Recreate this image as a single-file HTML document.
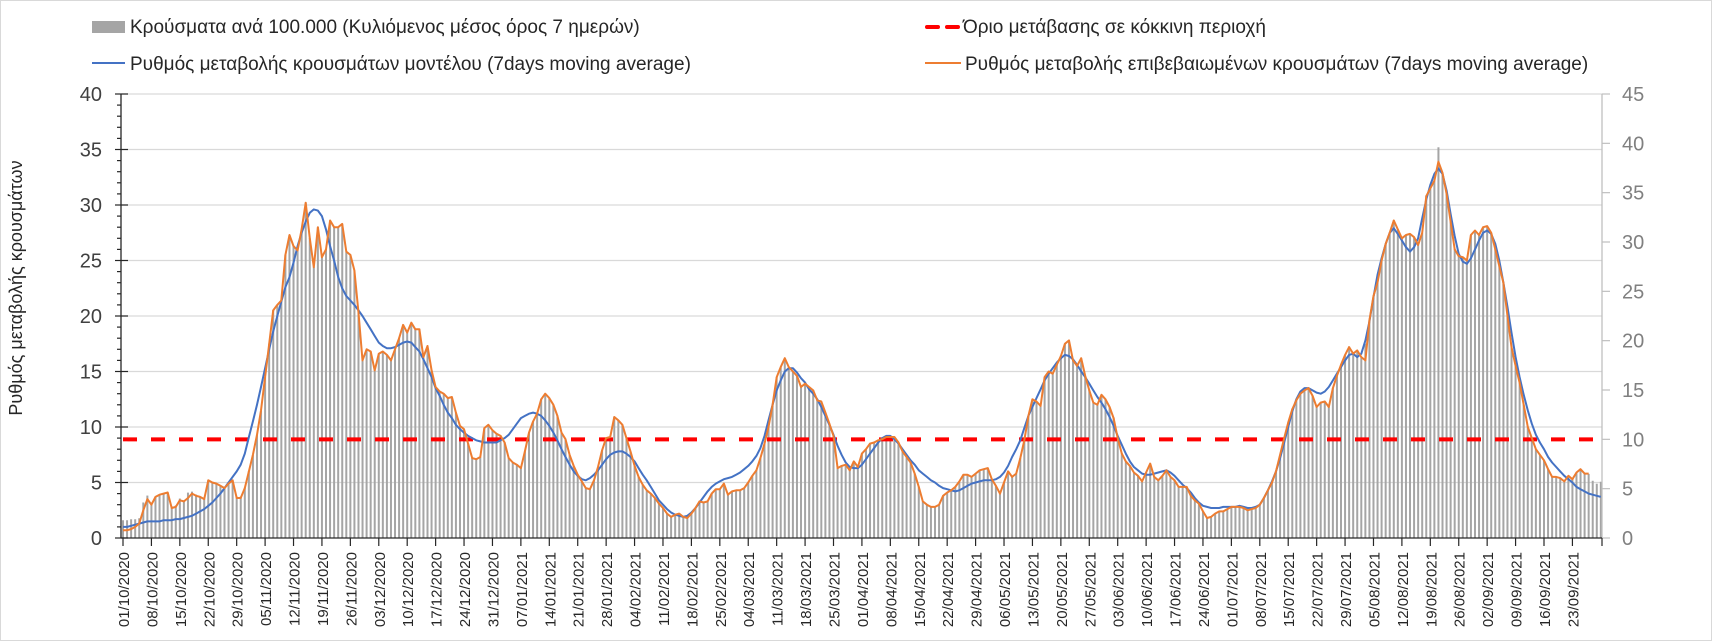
<!DOCTYPE html>
<html><head><meta charset="utf-8"><style>
html,body{margin:0;padding:0;background:#fff;}
svg{display:block;font-family:"Liberation Sans",sans-serif;}
</style></head><body>
<svg id="chart" width="1712" height="641" viewBox="0 0 1712 641" xmlns="http://www.w3.org/2000/svg">
<rect x="0.5" y="0.5" width="1711" height="640" fill="#fff" stroke="#d9d9d9"/>
<g id="grid"></g>
<g id="bars"></g>
<g id="lines"></g>
<g id="axes"></g>
<g font-size="19" fill="#262626">
  <rect x="92" y="21" width="33" height="12" fill="#a5a5a5"/>
  <text x="130" y="33">Κρούσματα ανά 100.000 (Κυλιόμενος μέσος όρος 7 ημερών)</text>
  <line x1="92" y1="63" x2="125" y2="63" stroke="#4472c4" stroke-width="2"/>
  <text x="130" y="70">Ρυθμός μεταβολής κρουσμάτων μοντέλου (7days moving average)</text>
  <line x1="927" y1="27" x2="961" y2="27" stroke="#ff0000" stroke-width="4" stroke-dasharray="11 9" stroke-linecap="round"/>
  <text x="963" y="33">Όριο μετάβασης σε κόκκινη περιοχή</text>
  <line x1="925" y1="63" x2="961" y2="63" stroke="#ed7d31" stroke-width="2"/>
  <text x="965" y="70">Ρυθμός μεταβολής επιβεβαιωμένων κρουσμάτων (7days moving average)</text>
</g>
<text transform="translate(22,288) rotate(-90)" text-anchor="middle" font-size="18" fill="#262626">Ρυθμός μεταβολής κρουσμάτων</text>
</svg>
<script>
const leftTicks = [0,5,10,15,20,25,30,35,40];
const rightTicks = [0,5,10,15,20,25,30,35,40,45];
const threshold = 10;
const startDate = [2020,10,1];
const confirmedRate = [0.7,0.7,0.8,1.0,1.3,2.5,3.5,3.0,3.7,3.9,4.0,4.1,2.7,2.8,3.4,3.3,3.6,4.0,3.8,3.7,3.5,5.2,5.0,4.9,4.7,4.5,4.9,5.2,3.6,3.6,4.5,6.0,7.5,9.3,11.5,14.5,17.5,20.5,21.0,21.4,25.5,27.3,26.3,25.9,27.8,30.2,27.0,24.4,28.0,25.3,26.0,28.6,28.0,28.0,28.3,25.8,25.5,24.1,20.3,16.0,17.0,16.8,15.1,16.6,16.8,16.5,16.0,17.0,18.0,19.2,18.5,19.4,18.8,18.8,16.3,17.3,15.1,13.6,13.2,13.0,12.6,12.7,11.3,10.1,9.8,8.5,7.2,7.1,7.3,9.9,10.2,9.7,9.4,9.2,8.6,7.2,6.8,6.6,6.3,7.8,9.5,10.5,11.2,12.5,13.0,12.6,12.0,11.0,9.5,8.9,7.5,6.5,5.7,5.1,4.5,4.4,5.2,6.4,7.9,9.0,9.1,10.9,10.6,10.2,9.0,7.8,6.5,5.5,4.8,4.3,4.0,3.6,3.1,2.7,2.2,1.9,2.1,2.2,1.9,1.8,2.2,2.7,3.3,3.2,3.3,4.0,4.4,4.4,4.9,3.9,4.2,4.3,4.3,4.5,5.0,5.6,6.1,7.2,8.5,10.0,12.0,14.5,15.4,16.2,15.4,15.0,14.6,13.6,13.9,13.6,13.3,12.4,12.3,11.3,10.3,9.2,6.3,6.5,6.6,6.1,6.9,6.4,7.6,8.0,8.5,8.6,8.8,8.9,9.1,9.1,9.1,8.6,7.8,7.3,6.8,5.8,4.6,3.3,3.0,2.8,2.8,3.0,3.8,4.1,4.3,4.6,5.1,5.7,5.7,5.5,5.8,6.1,6.2,6.3,5.3,4.7,4.0,5.0,6.0,5.5,5.8,7.2,8.8,11.0,12.5,12.3,11.9,14.5,15.0,14.8,15.6,16.4,17.5,17.8,16.0,15.5,16.2,14.6,13.3,12.2,12.0,12.9,12.5,11.8,10.8,9.0,7.6,6.9,6.5,5.9,5.6,5.1,5.9,6.7,5.5,5.2,5.6,6.1,5.5,5.2,4.6,4.6,4.6,3.8,3.4,3.1,2.4,1.8,1.9,2.2,2.4,2.4,2.6,2.8,2.8,2.8,2.7,2.5,2.6,2.7,3.0,3.6,4.3,5.0,6.0,7.5,9.0,10.4,11.6,12.4,13.0,13.3,13.5,12.8,11.8,12.2,12.3,11.8,13.5,14.6,15.6,16.5,17.2,16.6,16.9,16.3,16.0,19.6,21.8,23.0,25.0,26.5,27.5,28.6,27.8,27.0,27.3,27.4,27.1,26.4,27.5,30.8,31.5,32.2,33.9,32.9,31.0,28.5,26.0,25.4,25.3,25.0,27.3,27.7,27.3,28.0,28.1,27.5,26.0,24.5,23.0,20.0,17.2,15.5,14.0,12.0,10.0,9.0,8.0,7.5,7.0,6.2,5.5,5.5,5.4,5.1,5.6,5.3,5.9,6.2,5.8,5.8];
const modelRate = [1.0,1.0,1.1,1.2,1.3,1.4,1.5,1.5,1.5,1.5,1.6,1.6,1.6,1.7,1.7,1.8,1.9,2.0,2.2,2.4,2.6,2.9,3.2,3.6,4.0,4.5,5.0,5.5,6.0,6.6,7.6,9.1,10.5,12.0,13.6,15.3,17.0,18.6,20.0,21.3,22.6,23.5,24.8,26.3,27.5,28.5,29.3,29.6,29.5,29.0,27.8,26.3,25.0,23.5,22.5,21.8,21.4,21.0,20.5,20.0,19.4,18.8,18.2,17.6,17.3,17.1,17.1,17.2,17.4,17.6,17.7,17.6,17.2,16.8,16.1,15.3,14.5,13.5,12.8,12.0,11.3,10.8,10.2,9.8,9.5,9.2,9.0,8.8,8.7,8.6,8.6,8.6,8.6,8.8,9.0,9.3,9.8,10.3,10.8,11.0,11.2,11.3,11.2,11.0,10.6,10.1,9.5,8.8,8.0,7.3,6.6,6.0,5.6,5.3,5.2,5.4,5.7,6.1,6.6,7.1,7.5,7.7,7.8,7.8,7.6,7.3,6.9,6.3,5.7,5.2,4.6,4.0,3.4,3.0,2.6,2.3,2.1,2.0,1.9,2.0,2.3,2.7,3.2,3.7,4.2,4.6,4.9,5.1,5.3,5.4,5.5,5.7,5.9,6.2,6.5,6.9,7.4,8.1,9.2,10.6,12.0,13.3,14.2,15.0,15.3,15.3,14.9,14.4,14.0,13.4,13.0,12.5,11.8,11.0,10.2,9.3,8.3,7.5,6.8,6.4,6.3,6.3,6.6,7.1,7.6,8.1,8.6,9.0,9.2,9.2,8.9,8.5,8.0,7.5,7.0,6.6,6.1,5.8,5.5,5.2,5.0,4.7,4.5,4.4,4.3,4.2,4.3,4.5,4.7,4.9,5.0,5.1,5.2,5.2,5.2,5.3,5.5,5.9,6.5,7.3,8.0,8.8,9.9,11.0,11.8,12.6,13.4,14.2,14.8,15.3,15.8,16.2,16.5,16.4,16.1,15.6,15.0,14.5,13.9,13.3,12.7,12.2,11.6,10.9,10.1,9.2,8.4,7.6,6.9,6.4,6.1,5.8,5.7,5.7,5.8,5.9,6.0,6.1,5.9,5.6,5.2,4.8,4.5,4.1,3.6,3.2,2.9,2.8,2.7,2.7,2.7,2.8,2.8,2.8,2.8,2.9,2.8,2.7,2.7,2.8,3.0,3.6,4.3,5.1,6.0,7.2,8.6,10.0,11.4,12.5,13.2,13.5,13.5,13.3,13.1,13.0,13.2,13.6,14.2,14.8,15.4,16.0,16.5,16.6,16.3,16.6,17.8,19.5,21.7,23.7,25.2,26.5,27.5,27.9,27.4,26.8,26.2,25.8,26.2,27.0,28.8,30.5,31.8,32.8,33.3,32.8,31.3,29.2,27.2,25.6,24.9,24.7,25.2,26.0,26.8,27.5,27.7,27.4,26.5,25.0,23.0,20.8,18.5,16.3,14.5,12.9,11.5,10.3,9.3,8.6,8.0,7.3,6.8,6.4,6.0,5.6,5.3,5.0,4.6,4.4,4.2,4.0,3.9,3.8,3.7];
const casesPer100k = [1.8,1.8,1.9,1.9,2.0,3.6,4.3,3.6,4.2,4.4,4.5,4.6,3.2,3.3,4.0,3.8,4.6,4.7,4.4,4.2,4.0,5.9,5.6,5.5,5.3,5.1,5.5,5.9,4.2,4.2,5.1,6.8,8.4,10.5,12.9,16.3,19.7,23.1,23.6,24.1,28.7,30.7,29.6,29.1,31.3,34.0,30.4,27.5,31.5,28.5,29.3,32.2,31.5,31.5,31.8,29.0,28.7,27.1,22.8,18.0,19.1,18.9,17.0,18.7,18.9,18.6,18.0,19.1,20.3,21.6,20.8,21.8,21.2,21.2,18.3,19.5,17.0,15.3,14.9,14.6,14.2,14.3,12.7,11.4,11.0,9.6,8.1,8.0,8.2,11.1,11.5,10.9,10.6,10.4,9.7,8.1,7.7,7.4,7.1,8.8,10.7,11.8,12.6,14.1,14.6,14.2,13.5,12.4,10.7,10.0,8.4,7.3,6.4,5.7,5.1,5.0,5.9,7.2,8.9,10.1,10.2,12.3,11.9,11.5,10.1,8.8,7.3,6.2,5.4,4.8,4.5,4.1,3.5,3.0,2.5,2.1,2.4,2.5,2.1,2.0,2.5,3.0,3.7,3.6,3.7,4.5,5.0,5.0,5.5,4.4,4.7,4.8,4.8,5.1,5.6,6.3,6.9,8.1,9.6,11.3,13.5,16.3,17.3,18.2,17.3,16.9,16.4,15.3,15.6,15.3,15.0,14.0,13.8,12.7,11.6,10.4,7.1,7.3,7.4,6.9,7.8,7.2,8.6,9.0,9.6,9.7,9.9,10.0,10.2,10.2,10.2,9.7,8.8,8.2,7.7,6.5,5.2,3.7,3.4,3.2,3.2,3.4,4.3,4.6,4.8,5.2,5.7,6.4,6.4,6.2,6.5,6.9,7.0,7.1,6.0,5.3,4.5,5.6,6.8,6.2,6.5,8.1,9.9,12.4,14.1,13.8,13.4,16.3,16.9,16.7,17.6,18.5,19.7,20.0,18.0,17.4,18.2,16.4,15.0,13.7,13.5,14.5,14.1,13.3,12.2,10.1,8.6,7.8,7.3,6.6,6.3,5.7,6.6,7.5,6.2,5.9,6.3,6.9,6.2,5.9,5.2,5.2,5.2,4.3,3.8,3.5,2.7,2.0,2.1,2.5,2.7,2.7,2.9,3.2,3.2,3.2,3.0,2.8,2.9,3.0,3.4,4.1,4.8,5.6,6.8,8.4,10.1,11.7,13.1,14.0,14.6,15.0,15.2,14.4,13.3,13.7,13.8,13.3,15.2,16.4,17.6,18.6,19.4,18.7,19.0,18.3,19.7,22.1,24.5,25.9,28.1,29.8,30.9,32.2,31.3,30.4,30.7,30.8,30.5,29.7,30.9,34.7,35.4,36.2,39.6,37.0,34.9,32.1,29.3,28.6,28.5,28.1,30.7,31.2,30.7,31.5,31.6,30.9,29.3,27.6,25.9,22.5,19.4,17.4,15.8,13.5,11.3,10.1,9.0,8.4,7.9,7.0,6.2,6.2,6.1,5.7,6.3,6.0,6.6,7.0,6.5,6.5,5.8,5.5,5.7];

const NS = "http://www.w3.org/2000/svg";
const X0 = 123, DX = 4.06, Y0 = 538, YTOP = 94, AX = 121, AXR = 1602;
const nDays = casesPer100k.length;
function xDay(i){ return X0 + i*DX; }
function yLeft(v){ return Y0 - v*(Y0-YTOP)/40; }
function yRight(v){ return Y0 - v*(Y0-YTOP)/45; }
function mk(tag, attrs, parent){
  const e = document.createElementNS(NS, tag);
  for (const k in attrs) e.setAttribute(k, attrs[k]);
  parent.appendChild(e);
  return e;
}
const grid = document.getElementById('grid');
const bars = document.getElementById('bars');
const lines = document.getElementById('lines');
const axes = document.getElementById('axes');

leftTicks.forEach(t => {
  if (t === 0) return;
  const g = mk('line', {x1: AX, x2: AXR, y1: yLeft(t), y2: yLeft(t), stroke: '#d9d9d9', 'stroke-width': 1.3}, grid);
  
  
});

casesPer100k.forEach((v, i) => {
  const b = mk('rect', {x: xDay(i) - 1, y: yRight(v), width: 2, height: Y0 - yRight(v), fill: '#a5a5a5'}, bars);
  
  
});

const th = mk('line', {x1: xDay(0), x2: xDay(nDays - 1), y1: yRight(threshold), y2: yRight(threshold), stroke: '#ff0000', 'stroke-width': 4, 'stroke-dasharray': '14 14'}, lines);



const bluePts = modelRate.map((v, i) => xDay(i).toFixed(1) + ',' + yLeft(v).toFixed(1)).join(' ');
const blue = mk('polyline', {points: bluePts, fill: 'none', stroke: '#4472c4', 'stroke-width': 2, 'stroke-linejoin': 'round'}, lines);



const orPts = confirmedRate.map((v, i) => xDay(i).toFixed(1) + ',' + yLeft(v).toFixed(1)).join(' ');
const orange = mk('polyline', {points: orPts, fill: 'none', stroke: '#ed7d31', 'stroke-width': 2, 'stroke-linejoin': 'round'}, lines);



const la = mk('line', {x1: AX, x2: AX, y1: YTOP, y2: Y0, stroke: '#262626', 'stroke-width': 1.3}, axes);


for (let v = 0; v <= 40; v++) {
  const major = v % 5 === 0;
  const t = mk('line', {x1: major ? 115 : 117, x2: major ? 128 : AX, y1: yLeft(v), y2: yLeft(v), stroke: '#262626', 'stroke-width': 1.2}, axes);
  
  
}
leftTicks.forEach(t => {
  const l = mk('text', {x: 102, y: yLeft(t) + 7, 'text-anchor': 'end', 'font-size': 20, fill: '#404040'}, axes);
  l.textContent = t;
  
  
});
const ra = mk('line', {x1: AXR, x2: AXR, y1: YTOP, y2: Y0, stroke: '#bfbfbf', 'stroke-width': 1.3}, axes);


rightTicks.forEach(t => {
  const k = mk('line', {x1: AXR, x2: AXR + 8, y1: yRight(t), y2: yRight(t), stroke: '#bfbfbf', 'stroke-width': 1.2}, axes);
  
  
  const l = mk('text', {x: 1622, y: yRight(t) + 7, 'font-size': 20, fill: '#808080'}, axes);
  l.textContent = t;
  
  
});
const xa = mk('line', {x1: AX, x2: AXR, y1: Y0, y2: Y0, stroke: '#262626', 'stroke-width': 1.3}, axes);


function pad(n){ return (n < 10 ? '0' : '') + n; }
for (let i = 0; i + 7 <= nDays; i += 7) {
  const d = new Date(Date.UTC(startDate[0], startDate[1] - 1, startDate[2] + i));
  const label = pad(d.getUTCDate()) + '/' + pad(d.getUTCMonth() + 1) + '/' + d.getUTCFullYear();
  const x = xDay(i);
  const tk = mk('line', {x1: x, x2: x, y1: Y0, y2: Y0 + 8, stroke: '#262626', 'stroke-width': 1.2}, axes);
  
  
  const tx = mk('text', {transform: 'translate(' + (x + 6) + ',552) rotate(-90)', 'text-anchor': 'end', 'font-size': 15, fill: '#262626'}, axes);
  tx.textContent = label;
  
  
}
const endTick = mk('line', {x1: AXR, x2: AXR, y1: Y0, y2: Y0 + 8, stroke: '#262626', 'stroke-width': 1.2}, axes);


</script>
</body></html>
